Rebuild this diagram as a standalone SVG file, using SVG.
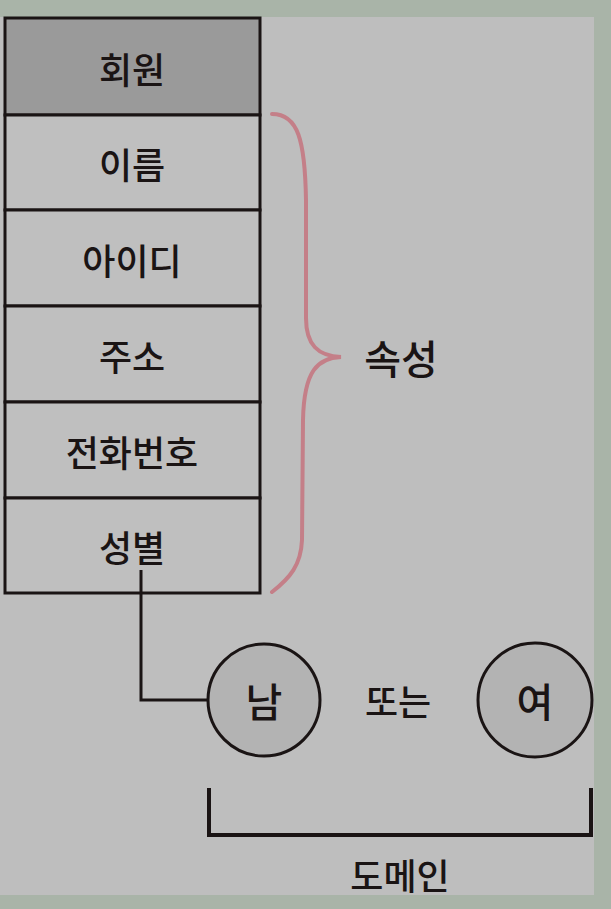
<svg xmlns="http://www.w3.org/2000/svg" width="611" height="909" viewBox="0 0 611 909">
<style>
.t{font-family:"Noto Sans CJK KR","Noto Sans",sans-serif;font-size:36px;font-weight:500;fill:#1a1414;text-anchor:middle;dominant-baseline:central}
.cell{fill:#bfbfbf;stroke:#1a1414;stroke-width:3}
.ln{fill:none;stroke:#1a1414;stroke-width:3}
</style>
<rect width="611" height="909" fill="#a9b4a8"/>
<rect x="0" y="17" width="594" height="878" fill="#bebebe"/>
<g id="table">
<rect class="cell" x="5" y="18" width="255" height="97" style="fill:#9a9a9a"/>
<text class="t" x="132" y="68">회원</text>
<rect class="cell" x="5" y="115" width="255" height="95"/>
<text class="t" x="132" y="163">이름</text>
<rect class="cell" x="5" y="210" width="255" height="96"/>
<text class="t" x="132" y="259">아이디</text>
<rect class="cell" x="5" y="306" width="255" height="96"/>
<text class="t" x="132" y="355">주소</text>
<rect class="cell" x="5" y="402" width="255" height="96"/>
<text class="t" x="132" y="451">전화번호</text>
<rect class="cell" x="5" y="498" width="255" height="95"/>
<text class="t" x="132" y="546">성별</text>
</g>
<g id="brace">
<path d="M272,114 C298,114 305,140 306,200 L306,318 C306,345 318,356 341,357 C318,358 304,370 303,420 L302,540 C301,565 290,578 272,592" fill="none" stroke="#c47f88" stroke-width="4" stroke-linecap="round"/>
<text class="t" x="401" y="357" style="font-size:40px">속성</text>
</g>
<g id="connectors">
<path class="ln" d="M141,570 V700 H208"/>
</g>
<g id="node-nam">
<circle cx="264" cy="700" r="56" fill="#b3b3b3" stroke="#1a1414" stroke-width="3"/>
<text class="t" x="264" y="700" style="font-size:40px">남</text>
</g>
<text class="t" x="398" y="700">또는</text>
<g id="node-yeo">
<circle cx="535" cy="700" r="57" fill="#b3b3b3" stroke="#1a1414" stroke-width="3"/>
<text class="t" x="535" y="700" style="font-size:40px">여</text>
</g>
<g id="domain">
<path d="M209,788 V835 H591 V788" fill="none" stroke="#1a1414" stroke-width="4"/>
<text class="t" x="400" y="874">도메인</text>
</g>
</svg>
